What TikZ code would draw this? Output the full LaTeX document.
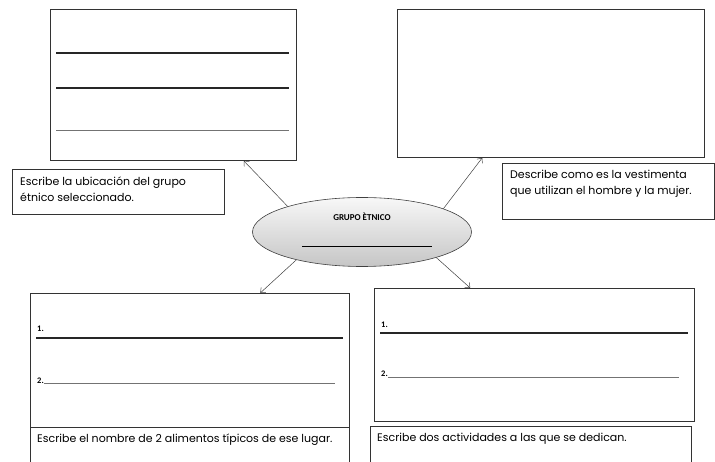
\documentclass[tikz,border=0pt]{standalone}
\usepackage{fontspec}
\setmainfont{Poppins}
\newfontfamily\calibri{Carlito}
\usetikzlibrary{positioning,shapes.geometric,calc,arrows.meta}

\tikzset{
  hoja/.style={draw=black!80, line width=0.8pt, anchor=north west, inner sep=0pt},
  texto/.style={anchor=north west, align=left, inner sep=0pt, font=\fontsize{11}{16}\selectfont},
  renglon/.style={line width=1.2pt, black!85},
  renglonfino/.style={line width=0.7pt, black!55},
  flecha/.style={-{Straight Barb[length=4pt,width=7pt]}, black!75, line width=0.5pt},
  num/.style={font=\calibri\bfseries\fontsize{8.5}{9}\selectfont, inner sep=0pt, anchor=base west}
}

\begin{document}
\begin{tikzpicture}[x=1pt,y=-1pt]
\useasboundingbox (0,0) rectangle (715,462);
\clip (0,0) rectangle (715,462);

% cajas grandes
\node[hoja, minimum width=246, minimum height=151] (ubicacion) at (50,9) {};
\node[hoja, minimum width=307, minimum height=148] (vestimenta) at (397,9) {};
\node[hoja, minimum width=319, minimum height=134] (alimentos) at (30,293) {};
\node[hoja, minimum width=320, minimum height=133] (actividades) at (374,288) {};

% cajas de instrucciones
\node[hoja, minimum width=212, minimum height=45] (ubicacionlbl) at (12,169) {};
\node[hoja, minimum width=212, minimum height=56] (vestimentalbl) at (502,163) {};
\node[hoja, minimum width=319, minimum height=50] (alimentoslbl) at (30,427) {};
\node[hoja, minimum width=321, minimum height=50] (actividadeslbl) at (370,426) {};

\node[texto, below right=8pt and 8pt of ubicacionlbl.north west] (t1) {Escribe la ubicación del grupo\\étnico seleccionado.};
\node[texto, below right=7pt and 8pt of vestimentalbl.north west] (t2) {Describe como es la vestimenta\\que utilizan el hombre y la mujer.};
\node[texto, below right=7pt and 7pt of alimentoslbl.north west] (t3) {Escribe el nombre de 2 alimentos típicos de ese lugar.};
\node[texto, below right=7pt and 7pt of actividadeslbl.north west] (t4) {Escribe dos actividades a las que se dedican.};

% renglones
\draw[renglon] (56,53) -- (289,53);
\draw[renglon] (56,88) -- (289,88);
\draw[renglonfino] (56,130) -- (289,130);

\node[num] (a1) at (37,332) {1.};
\draw[renglon] (36,338) -- (343,338);
\node[num] (a2) at (37,383) {2.};
\draw[renglonfino] (44,383) -- (335,383);

\node[num] (b1) at (381,327) {1.};
\draw[renglon] (380,333) -- (688,333);
\node[num] (b2) at (381,377) {2.};
\draw[renglonfino] (388,377) -- (679,377);

% centro
\node[ellipse, draw=black!75, line width=0.6pt, minimum width=219, minimum height=69,
      top color=gray!6, bottom color=gray!45] (grupo) at (362,232) {};
\node[font=\calibri\bfseries\fontsize{9}{10}\selectfont, inner sep=0pt] (titulo) at ($(grupo.center)+(0,-15)$) {GRUPO ÈTNICO};
\draw[line width=0.6pt] ($(grupo.center)+(-60,14)$) -- ($(grupo.center)+(70,14)$);

% flechas
\draw[flecha] (grupo.161) -- ($(ubicacion.south west)!0.785!(ubicacion.south east)$);
\draw[flecha] (grupo.16) -- ($(vestimenta.south west)!0.277!(vestimenta.south east)$);
\draw[flecha] (grupo.203) -- ($(alimentos.north west)!0.72!(alimentos.north east)$);
\draw[flecha] (grupo.341) -- ($(actividades.north west)!0.30!(actividades.north east)$);
\end{tikzpicture}
\end{document}
